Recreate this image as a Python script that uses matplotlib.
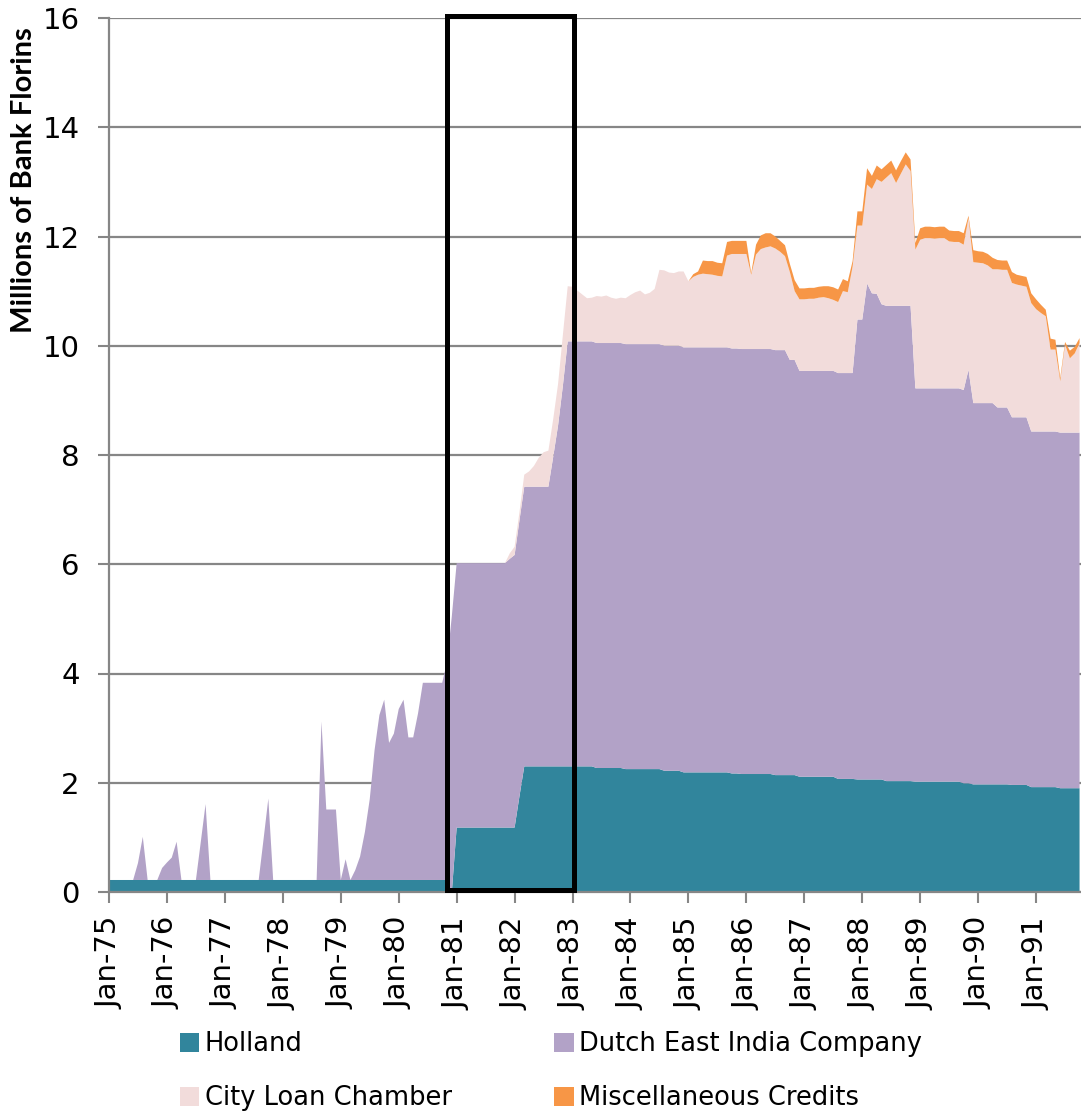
import numpy as np
import matplotlib
matplotlib.use("Agg")
import matplotlib.pyplot as plt
from matplotlib.patches import Rectangle, Patch

# monthly values, Jan-75 .. Oct-91 (millions of bank florins)
holland = ([0.22] * 71 + [0.00]
           + [1.18] * 13 + [1.75] + [2.30] * 15
           + [2.27] * 6 + [2.25] * 8 + [2.22] * 4
           + [2.19] * 10 + [2.17] * 2 + [2.16] * 7
           + [2.14] * 5 + [2.11] * 8 + [2.07] * 4
           + [2.06] * 6 + [2.03] * 6 + [2.02] * 10
           + [1.99] * 2 + [1.97] * 8 + [1.96] * 4
           + [1.92] * 6 + [1.90] * 5)

voc = ([0, 0, 0, 0, 0, 0, 0.31, 0.79, 0, 0, 0, 0.22,
        0.32, 0.41, 0.70, 0, 0, 0, 0, 0.69, 1.39, 0, 0, 0,
        0, 0, 0, 0, 0, 0, 0, 0, 0.74, 1.49, 0, 0,
        0, 0, 0, 0, 0, 0, 0, 0, 2.90, 1.29, 1.29, 1.29,
        0, 0.38, 0, 0.18, 0.43, 0.88, 1.48, 2.38, 3.02, 3.30, 2.51, 2.68,
        3.13, 3.30, 2.61, 2.61, 3.05, 3.61, 3.61, 3.61, 3.61, 3.61, 3.98, 5.05]
       + [4.84] * 11 + [4.92]
       + [4.99, 5.05] + [5.12] * 6 + [5.67, 6.24, 6.97, 7.78]
       + [7.78] * 45 + [7.60] * 2 + [7.43] * 12 + [8.42] * 2
       + [9.08, 8.90, 8.89] + [8.70] * 7 + [7.20] * 11 + [7.57]
       + [6.98] * 5 + [6.90] * 3 + [6.73] * 4 + [6.51] * 11)

city_loan = ([0] * 83 + [0.10]
             + [0.15, 0.15, 0.22, 0.28, 0.38, 0.53, 0.63, 0.66, 0.69, 0.76, 0.93, 1.01]
             + [1.00, 0.93, 0.86, 0.79, 0.80, 0.86, 0.85, 0.87, 0.83, 0.81, 0.83, 0.84]
             + [0.90, 0.95, 0.98, 0.91, 0.94, 1.01, 1.36, 1.38, 1.34, 1.33, 1.36, 1.39]
             + [1.21, 1.29, 1.33, 1.35, 1.34, 1.33, 1.31, 1.30, 1.68, 1.73, 1.73, 1.74]
             + [1.74, 1.36, 1.73, 1.83, 1.86, 1.88, 1.86, 1.80, 1.72, 1.61, 1.26, 1.31]
             + [1.31, 1.32, 1.32, 1.34, 1.35, 1.33, 1.30, 1.30, 1.50, 1.48, 1.95, 1.72]
             + [1.72, 1.81, 1.91, 2.10, 2.24, 2.35, 2.43, 2.25, 2.42, 2.59, 2.47, 2.54]
             + [2.72, 2.75, 2.75, 2.74, 2.75, 2.75, 2.69, 2.68, 2.68, 2.66, 2.78, 2.58]
             + [2.57, 2.56, 2.52, 2.45, 2.53, 2.52, 2.52, 2.46, 2.43, 2.41, 2.39, 2.35]
             + [2.24, 2.17, 2.11, 1.50, 1.50, 0.94, 1.61, 1.36, 1.45, 1.64])

misc = ([0] * 120
        + [0, 0.05, 0.06, 0.24, 0.24, 0.25, 0.24, 0.24, 0.25, 0.24, 0.24, 0.24]
        + [0.24, 0.03, 0.18, 0.25, 0.26, 0.24, 0.22, 0.20, 0.20, 0.15, 0.20, 0.20]
        + [0.20, 0.20, 0.20, 0.20, 0.20, 0.22, 0.23, 0.23, 0.22, 0.20, 0.10, 0.26]
        + [0.26, 0.30, 0.24, 0.25, 0.23, 0.23, 0.23, 0.23, 0.23, 0.22, 0.21, 0.12]
        + [0.21, 0.21, 0.21, 0.21, 0.21, 0.21, 0.20, 0.20, 0.20, 0.21, 0.04, 0.22]
        + [0.21, 0.21, 0.21, 0.21, 0.17, 0.17, 0.17, 0.20, 0.18, 0.18, 0.18, 0.18]
        + [0.18, 0.15, 0.12, 0.20, 0.18, 0.06, 0.05, 0.14, 0.12, 0.09])

series_names = ["Holland", "Dutch East India Company", "City Loan Chamber", "Miscellaneous Credits"]
colors = ["#31859C", "#B2A2C7", "#F2DCDB", "#F79646"]
year_labels = ["Jan-%d" % y for y in range(75, 92)]

months = np.arange(len(holland))

fig = plt.figure(figsize=(10.81, 11.14), dpi=100)
ax = fig.add_axes([109 / 1081, 1 - 892 / 1114, 1 - 109 / 1081, (892 - 18) / 1114])

ax.stackplot(months, holland, voc, city_loan, misc, colors=colors, linewidth=0, zorder=2)

# highlighted window (Jan-81 .. Jan-83)
ax.add_patch(Rectangle((70.1, 0.04), 96.3 - 70.1, 16.03 - 0.04, fill=False,
                       edgecolor="black", linewidth=3.6, clip_on=False, zorder=5))

ax.set_xlim(0, 201.3)
ax.set_ylim(0, 16)
ax.set_yticks(range(0, 17, 2))
ax.set_xticks(range(0, 12 * len(year_labels), 12))
ax.set_xticklabels(year_labels, rotation=90)
ax.tick_params(axis="both", labelsize=21, color="#868686", length=8, width=1.5)
ax.tick_params(axis="x", pad=10)
ax.tick_params(axis="y", pad=13)

ax.grid(axis="y", color="#868686", linewidth=1.6)
ax.set_axisbelow(True)
for side in ["top", "right"]:
    ax.spines[side].set_visible(False)
for side in ["left", "bottom"]:
    ax.spines[side].set_color("#868686")
    ax.spines[side].set_linewidth(1.6)

ax.set_ylabel("Millions of Bank Florins", fontsize=21, fontweight="bold",
              family=["Lato", "DejaVu Sans"])
ax.yaxis.set_label_coords(-0.074, 0.815)

handles = [Patch(facecolor=c, edgecolor="none") for c in colors]
order = [0, 2, 1, 3]
fig.legend([handles[i] for i in order], [series_names[i] for i in order],
           loc="upper left", bbox_to_anchor=(157 / 1081, 1 - 1008 / 1114), ncol=2,
           frameon=False, fontsize=18.5, handlelength=0.75, handleheight=0.75,
           handletextpad=0.2, columnspacing=4.0, labelspacing=1.1)

fig.savefig("out.png", dpi=100)
